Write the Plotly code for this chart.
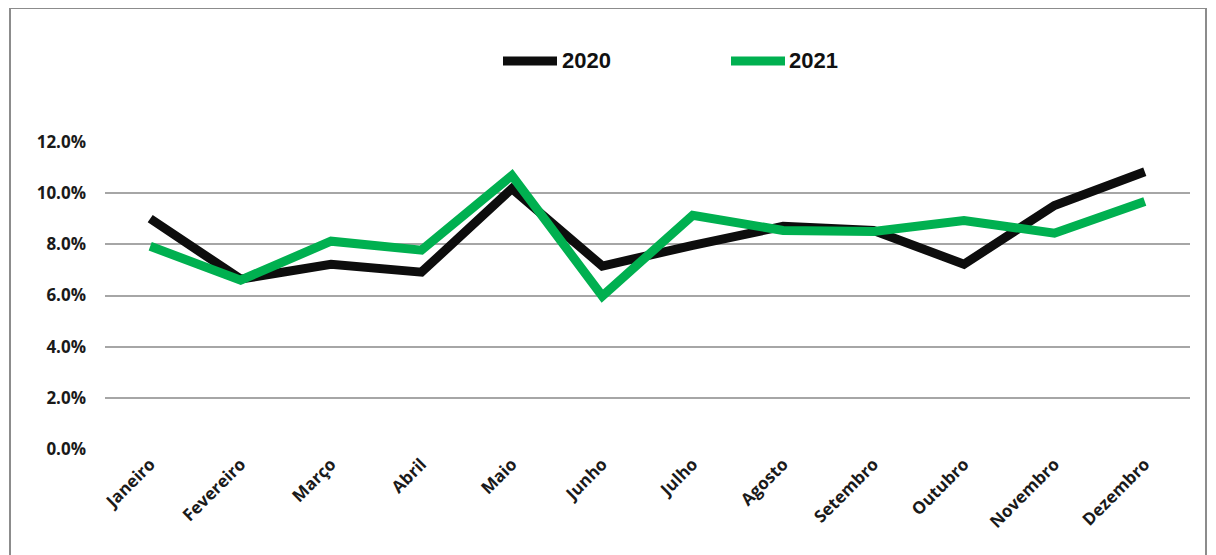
import plotly.graph_objects as go

meses = ["Janeiro", "Fevereiro", "Março", "Abril", "Maio", "Junho", "Julho",
         "Agosto", "Setembro", "Outubro", "Novembro", "Dezembro"]
v2020 = [9.0, 6.64, 7.22, 6.91, 10.17, 7.15, 7.96, 8.70, 8.54, 7.22, 9.51, 10.83]
v2021 = [7.92, 6.60, 8.12, 7.77, 10.68, 5.98, 9.13, 8.54, 8.50, 8.93, 8.43, 9.67]
ytick_vals = [0, 2, 4, 6, 8, 10, 12]
ytick_text = ["0.0%", "2.0%", "4.0%", "6.0%", "8.0%", "10.0%", "12.0%"]
series_names = ["2020", "2021"]
series_colors = ["#0d0d0d", "#00b050"]

OFF = 8  # page body margin
W, H = 1216 - OFF, 555 - OFF
L, R, T, B = 105 - OFF, 26, 141 - OFF, 105
pw, ph = W - L - R, H - T - B

fig = go.Figure()
for name, vals, col in zip(series_names, [v2020, v2021], series_colors):
    fig.add_trace(go.Scatter(x=meses, y=vals, mode="lines", name=name,
                             line=dict(color=col, width=9), showlegend=False))

def px_x(x):
    return (x - OFF - L) / pw

def px_y(y):
    return 1 - (y - OFF - T) / ph

fig.add_shape(type="rect", xref="paper", yref="paper",
              x0=px_x(10), x1=px_x(1206), y0=px_y(620), y1=px_y(8),
              line=dict(color="#8c8c8c", width=2), fillcolor="rgba(0,0,0,0)", layer="below")

# legend drawn manually
leg = [(503, 557, 560), (731, 785, 787)]
for (x0, x1, xt), name, col in zip(leg, series_names, series_colors):
    fig.add_shape(type="line", xref="paper", yref="paper",
                  x0=px_x(x0), x1=px_x(x1), y0=px_y(61), y1=px_y(61),
                  line=dict(color=col, width=9))
    fig.add_annotation(xref="paper", yref="paper", x=px_x(xt), y=px_y(60),
                       xanchor="left", yanchor="middle", showarrow=False, text=name,
                       font=dict(size=22, family="Liberation Sans Narrow, Liberation Sans",
                                 weight="bold", color="#111"))

fig.update_layout(
    width=W, height=H,
    margin=dict(l=L, r=R, t=T, b=B),
    paper_bgcolor="white", plot_bgcolor="white",
    font=dict(family="Open Sans", color="#1a1a1a"),
    showlegend=False,
    xaxis=dict(type="category", range=[-0.5, 11.5], showgrid=False, showline=False,
               tickangle=-45, tickfont=dict(size=17, weight="bold", family="Open Sans"),
               ticks="", ticklen=0, fixedrange=True),
    yaxis=dict(range=[-0.03, 12.03], tickvals=ytick_vals, ticktext=ytick_text,
               showgrid=True, gridcolor="#a6a6a6", gridwidth=2, zeroline=False,
               showline=False, ticks="", ticklen=0, ticklabelstandoff=18,
               tickfont=dict(size=17, weight="bold", family="Open Sans"), fixedrange=True),
)

fig.write_html("out.html")
